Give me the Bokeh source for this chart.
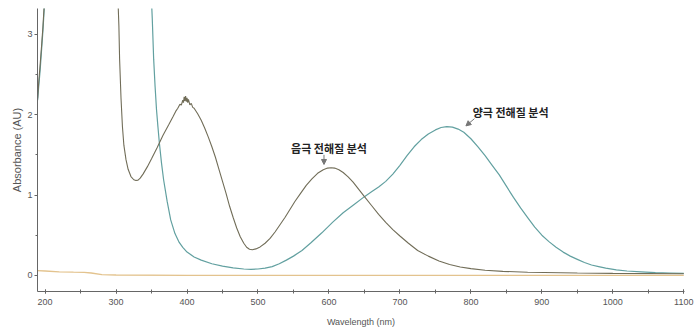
from bokeh.plotting import figure
from bokeh.models import Range1d, SingleIntervalTicker, Arrow, NormalHead, Label
from bokeh.embed import file_html
from bokeh.resources import INLINE

# Cathode electrolyte (음극 전해질)
cat_wl = [189.5, 191, 193, 195, 197, 199, 202, 300, 302, 304, 305, 307, 309, 311, 314, 317, 321, 325, 328,
          331, 334, 338, 344, 350, 358, 366, 374, 380, 384, 387, 390, 392, 394, 395, 396, 397, 398, 399, 400,
          401, 402, 404, 406, 408, 410, 415, 420, 425, 430, 435, 440, 445, 450, 455, 460, 465, 470, 475, 480,
          484, 488, 492, 497, 503, 510, 517, 524, 531, 538, 545, 552, 560, 568, 576, 584, 592, 598, 603, 608,
          614, 620, 627, 634, 642, 650, 660, 670, 680, 690, 700, 712, 725, 740, 755, 770, 785, 800, 820, 845,
          880, 950, 1000, 1100]
cat_ab = [2.2, 2.4, 2.62, 2.85, 3.1, 3.4, 3.7, 3.7, 3.6, 3.1, 2.69, 2.2, 1.85, 1.62, 1.44, 1.32, 1.23, 1.19, 1.18,
          1.185, 1.21, 1.26, 1.35, 1.45, 1.59, 1.74, 1.87, 1.97, 2.04, 2.08, 2.13, 2.12, 2.18, 2.15, 2.22, 2.17,
          2.23, 2.16, 2.21, 2.15, 2.19, 2.12, 2.14, 2.09, 2.08, 2.01, 1.93, 1.83, 1.72, 1.6, 1.47, 1.32, 1.17,
          1.02, 0.86, 0.72, 0.59, 0.48, 0.4, 0.35, 0.325, 0.32, 0.33, 0.355, 0.4, 0.46, 0.54, 0.63, 0.72, 0.82,
          0.92, 1.02, 1.12, 1.2, 1.27, 1.315, 1.335, 1.34, 1.335, 1.315, 1.28, 1.225, 1.16, 1.07, 0.98, 0.87,
          0.76, 0.66, 0.57, 0.49, 0.4, 0.31, 0.24, 0.18, 0.135, 0.105, 0.085, 0.065, 0.05, 0.04, 0.03, 0.025,
          0.02]

# Anode electrolyte (양극 전해질)
ano_wl = [189.5, 191, 193, 195, 197, 199, 202, 300, 349, 351, 353, 355, 357, 359, 361, 364, 367, 372, 377, 383,
          389, 394, 400, 410, 420, 435, 450, 465, 480, 490, 500, 510, 520, 530, 540, 550, 562, 575, 590, 605,
          620, 635, 650, 660, 670, 680, 690, 700, 710, 720, 730, 740, 750, 758, 766, 774, 782, 790, 800, 810,
          820, 830, 840, 850, 860, 870, 880, 890, 900, 910, 920, 930, 940, 950, 960, 970, 980, 990, 1005, 1020,
          1040, 1060, 1080, 1100]
ano_ab = [2.18, 2.35, 2.55, 2.8, 3.05, 3.35, 3.7, 3.7, 3.6, 3.2, 2.69, 2.35, 2.06, 1.85, 1.65, 1.4, 1.19, 0.92,
          0.69, 0.52, 0.41, 0.35, 0.29, 0.23, 0.19, 0.145, 0.115, 0.095, 0.08, 0.075, 0.08, 0.09, 0.11, 0.145,
          0.19, 0.24, 0.31, 0.41, 0.53, 0.66, 0.78, 0.88, 0.98, 1.04, 1.1, 1.17, 1.26, 1.37, 1.49, 1.6, 1.69,
          1.76, 1.81, 1.84, 1.85, 1.845, 1.82, 1.78, 1.7, 1.6, 1.49, 1.37, 1.25, 1.11, 0.97, 0.84, 0.72, 0.6,
          0.5, 0.42, 0.35, 0.29, 0.24, 0.2, 0.16, 0.13, 0.11, 0.09, 0.07, 0.055, 0.045, 0.035, 0.03, 0.025]

# Baseline
base_wl = [189.5, 200, 220, 240, 255, 265, 280, 300, 400, 600, 800, 1000, 1100]
base_ab = [0.06, 0.055, 0.045, 0.04, 0.038, 0.03, 0.01, 0.005, 0.0, 0.0, 0.0, 0.0, 0.0]

cat_label = "음극 전해질 분석"
ano_label = "양극 전해질 분석"

p = figure(width=696, height=333, output_backend="svg", toolbar_location=None,
           x_range=Range1d(189.3, 1101), y_range=Range1d(-0.2, 3.32),
           min_border_left=37, min_border_right=12, min_border_top=8, min_border_bottom=42)
p.outline_line_color = None
p.grid.visible = False
p.background_fill_color = "white"

p.line(base_wl, base_ab, line_color="#e3c38e", line_width=1.3)
p.line(ano_wl, ano_ab, line_color="#62a0a0", line_width=1.2)
p.line(cat_wl, cat_ab, line_color="#716d58", line_width=1.1)

p.xaxis.ticker = SingleIntervalTicker(interval=100, num_minor_ticks=2)
p.yaxis.ticker = SingleIntervalTicker(interval=1, num_minor_ticks=2)
for ax in (p.xaxis, p.yaxis):
    ax.axis_line_color = "#666666"
    ax.major_tick_line_color = "#666666"
    ax.minor_tick_line_color = "#666666"
    ax.major_label_text_font = "Liberation Sans"
    ax.major_label_text_font_size = "9px"
    ax.major_label_text_color = "#555555"
    ax.axis_label_text_font = "Liberation Sans"
    ax.axis_label_text_font_style = "normal"
    ax.axis_label_text_color = "#555555"
p.xaxis.axis_label_text_font_size = "9px"
p.yaxis.axis_label_text_font_size = "11px"
p.xaxis.major_tick_in = 2
p.xaxis.major_tick_out = 2
p.xaxis.minor_tick_in = 2
p.xaxis.minor_tick_out = 2
p.xaxis.major_label_standoff = 5
p.xaxis.axis_label = "Wavelength (nm)"
p.xaxis.axis_label_standoff = 9
p.yaxis.major_tick_in = 0
p.yaxis.major_tick_out = 3
p.yaxis.minor_tick_in = 0
p.yaxis.minor_tick_out = 2
p.yaxis.major_label_standoff = 2
p.yaxis.axis_label = "Absorbance (AU)"
p.yaxis.axis_label_standoff = 1

p.add_layout(Arrow(end=NormalHead(size=5, fill_color="#777777", line_color="#777777"),
                   x_start=593, y_start=1.5, x_end=593, y_end=1.38,
                   line_color="#777777", line_width=1))
p.add_layout(Arrow(end=NormalHead(size=5, fill_color="#777777", line_color="#777777"),
                   x_start=805, y_start=1.95, x_end=793, y_end=1.86,
                   line_color="#777777", line_width=1))
p.add_layout(Label(x=600, y=1.59, text=cat_label, text_align="center", text_baseline="middle",
                   text_font="Noto Sans CJK KR", text_font_size="11px", text_font_style="bold",
                   text_color="#222222"))
p.add_layout(Label(x=856, y=2.03, text=ano_label, text_align="center", text_baseline="middle",
                   text_font="Noto Sans CJK KR", text_font_size="11px", text_font_style="bold",
                   text_color="#222222"))

open("out.html", "w").write(file_html(p, INLINE))
